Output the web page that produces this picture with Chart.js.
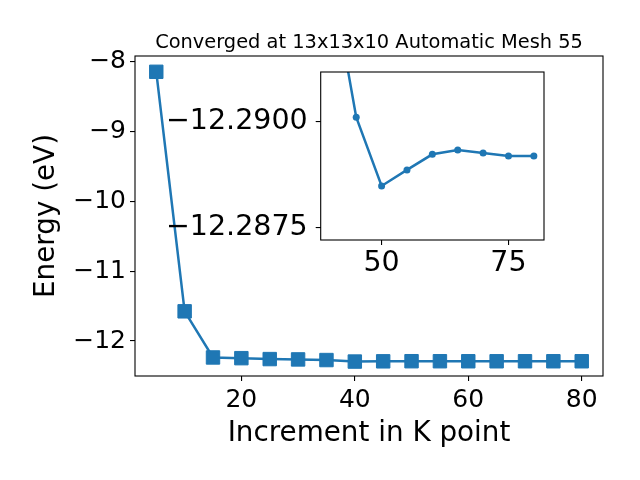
<!DOCTYPE html>
<html>
<head>
<meta charset="utf-8">
<script src="https://cdn.jsdelivr.net/npm/chart.js@4"></script>
<style>
  body { margin: 0; background: #fff; }
  #wrap { position: relative; width: 640px; height: 480px; }
  canvas { position: absolute; left: 0; top: 0; }
  #insetChart { pointer-events: none; }
</style>
</head>
<body>
<div id="wrap">
  <canvas id="mainChart" width="640" height="480"></canvas>
  <canvas id="insetChart" width="640" height="480"></canvas>
</div>
<script>
// K-point convergence data
const kPoints = [5, 10, 15, 20, 25, 30, 35, 40, 45, 50, 55, 60, 65, 70, 75, 80];
const energy = [-8.15, -11.575, -12.235, -12.245, -12.258, -12.263, -12.272, -12.2935,
                -12.29011, -12.28848, -12.28886, -12.28923, -12.28933, -12.28926, -12.28919, -12.28919];
const insetFrom = 40;

const mainXTicks = [20, 40, 60, 80];
const mainYTicks = [-8, -9, -10, -11, -12];
const insetXTicks = [50, 75];
const insetYTicks = [-12.29, -12.2875];

const blue = '#1f77b4';
const fontFamily = "'DejaVu Sans', sans-serif";
const minus = v => (v < 0 ? '\u2212' : '') + Math.abs(v);
const minus4 = v => (v < 0 ? '\u2212' : '') + Math.abs(v).toFixed(4);

const pts = (xs, ys) => xs.map((x, i) => ({ x: x, y: ys[i] }));

const frame = {
    id: 'frame',
    beforeDraw(chart, args, opts) {
        if (opts.fill) {
            const a = chart.chartArea;
            chart.ctx.save();
            chart.ctx.fillStyle = '#fff';
            chart.ctx.fillRect(a.left, a.top, a.right - a.left, a.bottom - a.top);
            chart.ctx.restore();
        }
    },
    afterDraw(chart, args, opts) {
        const a = chart.chartArea, ctx = chart.ctx;
        ctx.save();
        ctx.strokeStyle = '#000';
        ctx.lineWidth = 1.1;
        ctx.strokeRect(a.left, a.top, a.right - a.left, a.bottom - a.top);
        if (opts.title) {
            ctx.fillStyle = '#000';
            ctx.font = '19.4px ' + fontFamily;
            ctx.textAlign = 'center';
            ctx.textBaseline = 'alphabetic';
            ctx.fillText(opts.title, (a.left + a.right) / 2, a.top - 8.3);
        }
        ctx.restore();
    }
};

function axis(min, max, ticks, fmt, size, pad, extra) {
    return Object.assign({
        type: 'linear',
        min: min,
        max: max,
        afterBuildTicks: s => { s.ticks = ticks.map(v => ({ value: v })); },
        ticks: { color: '#000', font: { family: fontFamily, size: size }, padding: pad, callback: fmt, maxRotation: 0, autoSkip: false },
        grid: { display: true, drawOnChartArea: false, drawTicks: true, tickLength: 5, color: '#000', lineWidth: 1.1 },
        border: { display: false }
    }, extra || {});
}

// main plot
const kMin = 5, kMax = 80, kPad = (kMax - kMin) * 0.05;
new Chart(document.getElementById('mainChart'), {
    type: 'line',
    data: {
        datasets: [{
            data: pts(kPoints, energy),
            borderColor: blue,
            backgroundColor: blue,
            borderWidth: 2.5,
            pointStyle: 'rect',
            pointRadius: 9.5,
            pointBorderWidth: 1,
            pointBackgroundColor: blue,
            pointBorderColor: blue,
            tension: 0
        }]
    },
    options: {
        responsive: false,
        animation: false,
        devicePixelRatio: 1,
        layout: { padding: { top: 56, right: 37, left: 0, bottom: 0 } },
        plugins: { legend: { display: false }, tooltip: { enabled: false }, frame: { title: 'Converged at 13x13x10 Automatic Mesh 55' } },
        scales: {
            x: axis(kMin - kPad, kMax + kPad, mainXTicks, v => v, 25, 4, {
                afterFit: s => { s.height = 104; },
                title: { display: true, text: 'Increment in K point', color: '#000', font: { family: fontFamily, size: 27.8 }, padding: { top: 0, bottom: 30 } }
            }),
            y: axis(-12.5, -7.924, mainYTicks, minus, 25, 4, {
                afterFit: s => { s.width = 135; },
                title: { display: true, text: 'Energy (eV)', color: '#000', font: { family: fontFamily, size: 27.8 }, padding: { top: 30, bottom: 0 } }
            })
        }
    },
    plugins: [frame]
});

// inset zoom on the converged region
const iStart = kPoints.indexOf(insetFrom);
new Chart(document.getElementById('insetChart'), {
    type: 'line',
    data: {
        datasets: [{
            data: pts(kPoints.slice(iStart), energy.slice(iStart)),
            borderColor: blue,
            backgroundColor: blue,
            borderWidth: 2.5,
            pointRadius: 3.5,
            pointBorderWidth: 0,
            pointBackgroundColor: blue,
            tension: 0,
            clip: 0
        }]
    },
    options: {
        responsive: false,
        animation: false,
        devicePixelRatio: 1,
        layout: { padding: { top: 72, right: 96, left: 0, bottom: 0 } },
        plugins: { legend: { display: false }, tooltip: { enabled: false }, frame: { fill: true } },
        scales: {
            x: axis(38, 82, insetXTicks, v => v, 28.5, 1, { afterFit: s => { s.height = 240; } }),
            y: axis(-12.29118, -12.2872, insetYTicks, minus4, 28.5, 8, {
                reverse: true,
                afterFit: s => { s.width = 320.7; }
            })
        }
    },
    plugins: [frame]
});
</script>
</body>
</html>
